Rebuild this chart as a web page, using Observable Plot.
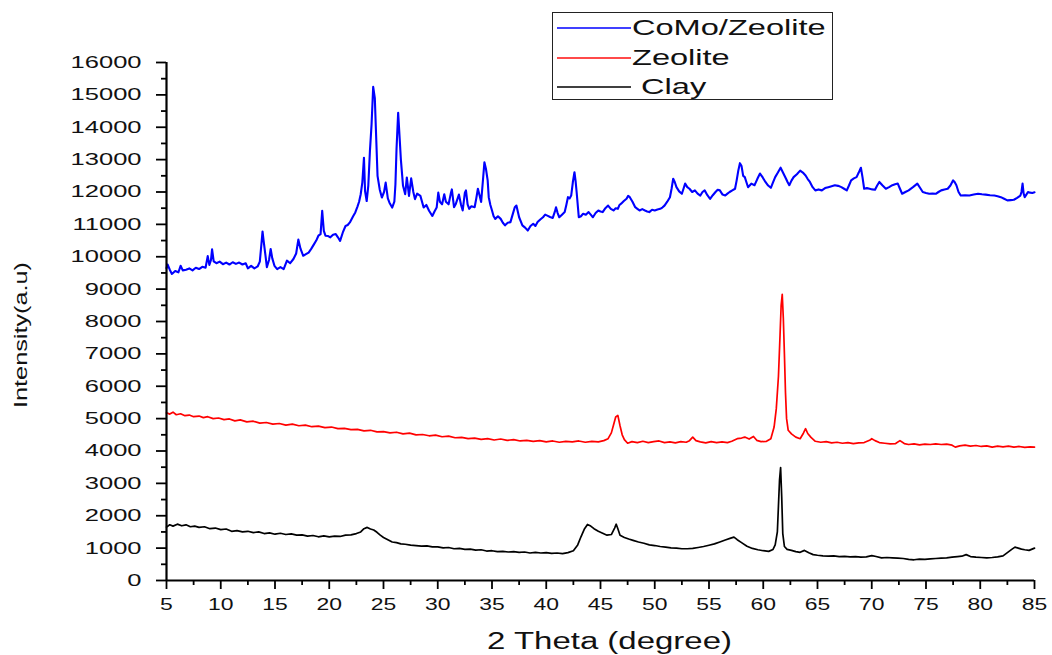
<!DOCTYPE html>
<html>
<head>
<meta charset="utf-8">
<script src="https://cdn.jsdelivr.net/npm/d3@7"></script>
<script src="https://cdn.jsdelivr.net/npm/@observablehq/plot@0.6"></script>
<style>
  body { margin: 0; background: #fff; }
  #chart { position: relative; width: 1052px; height: 655px; }
  .legend {
    position: absolute; left: 552px; top: 12px; width: 281px; height: 88px;
    box-sizing: border-box; border: 1.5px solid #222; background: #fff;
    font-family: "Liberation Sans", Arial, sans-serif; font-size: 22px; color: #111;
  }
  .legend .row { position: absolute; left: 0; height: 28px; display: flex; align-items: center; }
  .legend .key { display: block; margin-left: 4px; }
  .legend .lab { display: inline-block; white-space: pre; transform: scaleX(1.48); transform-origin: left center; margin-left: 1px; }
</style>
</head>
<body>
<div id="chart"></div>
<script>
// XRD patterns: [2θ (degree), intensity (a.u.)]
const comoZeolite = [
  [5.0,9650],[5.1,9760],[5.3,9600],[5.5,9470],[5.8,9560],[6.1,9520],[6.3,9720],[6.5,9580],[6.8,9600],[7.1,9640],
  [7.4,9580],[7.7,9660],[8.0,9620],[8.3,9690],[8.6,9660],[8.8,10020],[8.95,9750],[9.1,9900],[9.2,10230],[9.35,9860],
  [9.6,9800],[9.9,9850],[10.2,9770],[10.5,9820],[10.8,9760],[11.1,9830],[11.4,9780],[11.7,9820],[12.0,9760],[12.3,9800],
  [12.5,9640],[12.8,9720],[13.1,9640],[13.4,9700],[13.6,9850],[13.75,10400],[13.85,10780],[13.95,10500],[14.1,10100],[14.25,9680],
  [14.45,9900],[14.6,10240],[14.75,9950],[14.95,9720],[15.2,9620],[15.5,9680],[15.8,9620],[16.1,9880],[16.4,9800],[16.7,9930],
  [16.95,10100],[17.15,10530],[17.35,10250],[17.6,10030],[17.85,10080],[18.1,10130],[18.35,10250],[18.6,10390],[18.8,10500],[19.0,10650],
  [19.2,10700],[19.35,11420],[19.5,10800],[19.65,10650],[19.9,10640],[20.1,10600],[20.35,10680],[20.6,10700],[20.8,10600],[21.0,10490],
  [21.25,10750],[21.5,10950],[21.7,10980],[21.9,11060],[22.2,11250],[22.4,11370],[22.6,11550],[22.75,11700],[22.9,11930],[23.05,12300],
  [23.2,13060],[23.3,12030],[23.45,11720],[23.6,12200],[23.75,13270],[23.9,14090],[24.05,15250],[24.2,14900],[24.3,13930],[24.45,12500],
  [24.65,12080],[24.85,11830],[25.05,12000],[25.2,12290],[25.4,11800],[25.55,11670],[25.8,11520],[26.0,11700],[26.1,12240],[26.2,13320],
  [26.35,14450],[26.5,13600],[26.6,13010],[26.8,12190],[27.0,11930],[27.15,12450],[27.35,11880],[27.55,12420],[27.75,12000],[27.9,11780],
  [28.1,11950],[28.4,11880],[28.7,11520],[28.95,11600],[29.2,11420],[29.5,11260],[29.7,11400],[29.9,11520],[30.05,11980],[30.2,11700],
  [30.4,11620],[30.6,11930],[30.75,11700],[31.0,11620],[31.2,11950],[31.3,12080],[31.5,11530],[31.65,11620],[31.95,11920],[32.15,11600],
  [32.3,11430],[32.5,11980],[32.6,12050],[32.75,11620],[32.9,11480],[33.1,11560],[33.4,11530],[33.55,11800],[33.7,12100],[33.85,11900],
  [34.0,11690],[34.15,12300],[34.3,12920],[34.45,12700],[34.6,12360],[34.7,11840],[34.85,11600],[35.0,11430],[35.15,11250],[35.3,11170],
  [35.55,11250],[35.8,11170],[36.0,11050],[36.2,10970],[36.45,11050],[36.7,11070],[36.9,11300],[37.1,11530],[37.25,11580],[37.5,11220],
  [37.8,10970],[38.05,10900],[38.3,10810],[38.55,10950],[38.8,11020],[39.0,10950],[39.2,11070],[39.45,11150],[39.7,11220],[39.9,11300],
  [40.1,11270],[40.35,11230],[40.6,11200],[40.8,11400],[40.9,11530],[41.05,11350],[41.2,11220],[41.45,11300],[41.7,11380],[41.85,11600],
  [42.0,11840],[42.15,11800],[42.3,11890],[42.45,12300],[42.6,12610],[42.7,12350],[42.8,12000],[43.0,11220],[43.2,11250],[43.4,11330],
  [43.65,11300],[43.9,11380],[44.1,11300],[44.3,11220],[44.55,11350],[44.8,11430],[45.0,11400],[45.2,11380],[45.45,11500],[45.7,11580],
  [45.95,11480],[46.2,11430],[46.4,11500],[46.6,11480],[46.75,11600],[46.9,11640],[47.15,11720],[47.4,11790],[47.55,11880],[47.7,11840],
  [47.95,11700],[48.2,11530],[48.4,11480],[48.6,11430],[48.85,11470],[49.1,11430],[49.3,11400],[49.5,11380],[49.75,11450],[50.0,11430],
  [50.25,11460],[50.5,11480],[50.7,11520],[50.9,11580],[51.15,11700],[51.4,11840],[51.55,12100],[51.7,12410],[51.85,12300],[52.0,12150],
  [52.25,12020],[52.5,11945],[52.65,12100],[52.8,12260],[53.0,12150],[53.2,12100],[53.45,12000],[53.7,12050],[53.95,11950],[54.2,11890],
  [54.4,12000],[54.6,12050],[54.85,11900],[55.1,11790],[55.35,11900],[55.6,12000],[55.8,12070],[56.0,12050],[56.25,11920],[56.5,11890],
  [56.7,11950],[56.9,12000],[57.15,12050],[57.4,12100],[57.55,12360],[57.7,12660],[57.85,12890],[58.0,12800],[58.15,12500],[58.3,12460],
  [58.45,12300],[58.6,12150],[58.75,12200],[58.9,12260],[59.2,12210],[59.45,12400],[59.7,12570],[59.95,12450],[60.2,12310],[60.45,12200],
  [60.7,12130],[60.9,12300],[61.1,12460],[61.35,12600],[61.6,12750],[61.85,12580],[62.1,12410],[62.25,12300],[62.4,12210],[62.6,12350],
  [62.8,12460],[63.1,12550],[63.4,12660],[63.65,12600],[63.9,12510],[64.1,12400],[64.3,12310],[64.55,12150],[64.8,12050],[65.1,12080],
  [65.4,12050],[65.7,12120],[66.0,12150],[66.3,12180],[66.6,12210],[66.9,12190],[67.2,12150],[67.45,12100],[67.7,12050],[67.9,12200],
  [68.1,12360],[68.35,12420],[68.6,12460],[68.8,12600],[69.0,12750],[69.15,12450],[69.3,12100],[69.55,12120],[69.8,12100],[70.05,12080],
  [70.3,12070],[70.5,12200],[70.7,12310],[71.0,12200],[71.3,12100],[71.6,12150],[71.9,12210],[72.15,12240],[72.4,12260],[72.6,12100],
  [72.8,11945],[73.1,12000],[73.4,12050],[73.8,12150],[74.2,12260],[74.45,12130],[74.7,12000],[75.0,11970],[75.3,11945],[75.6,11950],
  [75.9,11945],[76.15,12000],[76.4,12050],[76.7,12080],[77.0,12100],[77.25,12200],[77.5,12360],[77.65,12300],[77.8,12210],[78.0,12000],
  [78.2,11890],[78.6,11900],[79.0,11890],[79.4,11920],[79.8,11945],[80.15,11930],[80.5,11920],[80.9,11900],[81.3,11890],[81.6,11870],
  [81.9,11840],[82.2,11790],[82.5,11740],[82.8,11750],[83.1,11760],[83.4,11820],[83.7,11890],[83.8,12000],[83.9,12260],[84.0,11950],
  [84.1,11840],[84.25,11920],[84.4,12000],[84.6,11980],[84.8,11970],[85.0,11990]
];

const zeolite = [
  [5.0,5180],[5.3,5140],[5.6,5200],[5.9,5120],[6.3,5150],[6.7,5090],[7.1,5110],[7.5,5060],[8.0,5080],[8.4,5030],
  [8.8,5060],[9.3,5000],[9.8,5020],[10.3,4970],[10.8,4990],[11.3,4930],[11.8,4960],[12.4,4900],[13.0,4920],[13.6,4860],
  [14.2,4880],[14.8,4830],[15.4,4850],[16.0,4800],[16.6,4830],[17.2,4780],[17.8,4800],[18.4,4750],[19.0,4770],[19.6,4720],
  [20.2,4740],[20.8,4690],[21.4,4700],[22.0,4660],[22.6,4670],[23.2,4620],[23.8,4640],[24.4,4590],[25.0,4600],[25.6,4560],
  [26.2,4580],[26.8,4530],[27.4,4550],[28.0,4500],[28.6,4510],[29.2,4470],[29.8,4490],[30.4,4440],[31.0,4460],[31.6,4410],
  [32.2,4420],[32.8,4380],[33.4,4400],[34.0,4360],[34.6,4380],[35.2,4340],[35.8,4370],[36.4,4330],[37.0,4350],[37.6,4310],
  [38.2,4330],[38.8,4300],[39.4,4320],[40.0,4280],[40.6,4310],[41.2,4270],[41.8,4300],[42.4,4280],[43.0,4310],[43.6,4270],
  [44.2,4300],[44.8,4280],[45.3,4320],[45.7,4380],[46.0,4560],[46.2,4800],[46.4,5050],[46.6,5100],[46.8,4780],[47.0,4500],
  [47.2,4350],[47.5,4240],[47.9,4290],[48.4,4260],[48.9,4300],[49.4,4260],[49.9,4290],[50.4,4310],[50.9,4260],[51.4,4280],
  [51.9,4250],[52.4,4290],[52.9,4270],[53.2,4320],[53.5,4430],[53.8,4320],[54.2,4280],[54.7,4250],[55.2,4290],[55.7,4260],
  [56.2,4280],[56.7,4260],[57.1,4300],[57.6,4380],[58.0,4400],[58.3,4430],[58.7,4370],[59.1,4450],[59.4,4330],[59.8,4290],
  [60.3,4300],[60.7,4380],[61.0,4740],[61.2,5300],[61.4,6300],[61.55,7600],[61.65,8500],[61.75,8840],[61.85,8100],[61.95,7000],
  [62.05,5800],[62.15,5000],[62.3,4640],[62.6,4530],[63.0,4430],[63.4,4380],[63.7,4550],[63.9,4690],[64.1,4540],[64.4,4420],
  [64.8,4300],[65.3,4270],[65.8,4290],[66.3,4250],[66.8,4270],[67.3,4240],[67.8,4260],[68.3,4230],[68.8,4250],[69.3,4260],
  [69.8,4330],[70.0,4380],[70.3,4320],[70.7,4260],[71.2,4240],[71.7,4220],[72.2,4230],[72.6,4320],[73.0,4230],[73.4,4200],
  [73.9,4220],[74.4,4190],[74.9,4210],[75.4,4200],[75.9,4220],[76.4,4200],[76.9,4210],[77.4,4180],[77.7,4120],[78.1,4160],
  [78.6,4180],[79.1,4150],[79.6,4170],[80.1,4140],[80.6,4160],[81.1,4120],[81.6,4150],[82.1,4130],[82.6,4150],[83.1,4120],
  [83.6,4140],[84.1,4110],[84.6,4130],[85.0,4120]
];

const clay = [
  [5.0,1650],[5.3,1720],[5.6,1680],[6.0,1740],[6.4,1690],[6.8,1720],[7.2,1660],[7.6,1680],[8.0,1640],[8.5,1660],
  [9.0,1600],[9.5,1620],[10.0,1570],[10.5,1590],[11.0,1520],[11.5,1540],[12.0,1500],[12.5,1520],[13.0,1480],[13.5,1500],
  [14.0,1450],[14.5,1470],[15.0,1430],[15.5,1460],[16.0,1420],[16.5,1440],[17.0,1400],[17.5,1410],[18.0,1370],[18.5,1390],
  [19.0,1350],[19.5,1380],[20.0,1350],[20.5,1370],[21.0,1360],[21.5,1400],[22.0,1410],[22.5,1450],[22.9,1500],[23.2,1600],
  [23.5,1640],[23.8,1590],[24.1,1560],[24.4,1490],[24.7,1400],[25.0,1330],[25.4,1260],[25.8,1190],[26.2,1170],[26.6,1130],
  [27.0,1120],[27.5,1090],[28.0,1080],[28.5,1060],[29.0,1070],[29.5,1040],[30.0,1040],[30.5,1010],[31.0,1020],[31.5,980],
  [32.0,990],[32.5,960],[33.0,970],[33.5,940],[34.0,950],[34.5,910],[35.0,920],[35.5,890],[36.0,900],[36.5,880],
  [37.0,890],[37.5,870],[38.0,880],[38.5,850],[39.0,870],[39.5,850],[40.0,860],[40.5,840],[41.0,850],[41.5,830],
  [42.0,860],[42.5,920],[42.9,1100],[43.2,1350],[43.5,1580],[43.8,1730],[44.1,1680],[44.4,1600],[44.8,1520],[45.2,1460],
  [45.6,1400],[46.0,1420],[46.3,1620],[46.45,1740],[46.6,1600],[46.8,1400],[47.2,1330],[47.6,1280],[48.0,1240],[48.5,1190],
  [49.0,1150],[49.5,1100],[50.0,1080],[50.5,1050],[51.0,1030],[51.5,1010],[52.0,1000],[52.5,980],[53.0,980],[53.5,990],
  [54.0,1020],[54.5,1050],[55.0,1090],[55.5,1130],[56.0,1190],[56.5,1250],[57.0,1310],[57.3,1340],[57.6,1260],[58.0,1170],
  [58.5,1060],[59.0,990],[59.5,950],[60.0,920],[60.5,900],[60.9,960],[61.1,1100],[61.3,1500],[61.4,2300],[61.5,3100],
  [61.6,3490],[61.7,2600],[61.8,1450],[61.95,1050],[62.2,960],[62.6,930],[63.0,890],[63.4,870],[63.8,930],[64.2,860],
  [64.6,800],[65.0,780],[65.5,760],[66.0,750],[66.5,760],[67.0,740],[67.5,745],[68.0,730],[68.5,740],[69.0,720],
  [69.5,730],[70.0,770],[70.4,740],[70.9,700],[71.4,710],[71.9,700],[72.4,690],[72.9,680],[73.4,650],[73.9,640],
  [74.4,660],[74.9,650],[75.4,670],[75.9,680],[76.4,690],[76.9,700],[77.4,720],[77.9,740],[78.3,750],[78.7,800],
  [79.1,740],[79.6,720],[80.1,710],[80.6,700],[81.1,710],[81.6,730],[82.1,760],[82.5,860],[82.9,960],[83.2,1030],
  [83.5,1000],[83.8,970],[84.1,950],[84.5,930],[85.0,1000]
];

const seriesData = [comoZeolite, zeolite, clay];
const legendLabels = ["CoMo/Zeolite", "Zeolite", " Clay"];
const lineColors = ["#0000ff", "#ff0000", "#000000"];
const keyColors = ["#0000ff", "#ff4a4a", "#000000"];

const xTicks = [5, 10, 15, 20, 25, 30, 35, 40, 45, 50, 55, 60, 65, 70, 75, 80, 85];
const xMinorTicks = [7.5, 12.5, 17.5, 22.5, 27.5, 32.5, 37.5, 42.5, 47.5, 52.5, 57.5, 62.5, 67.5, 72.5, 77.5, 82.5];
const yTicks = [0, 1000, 2000, 3000, 4000, 5000, 6000, 7000, 8000, 9000, 10000, 11000, 12000, 13000, 14000, 15000, 16000];
const yMinorTicks = [500, 1500, 2500, 3500, 4500, 5500, 6500, 7500, 8500, 9500, 10500, 11500, 12500, 13500, 14500, 15500];

const xTitle = "2 Theta (degree)";
const yTitle = "Intensity(a.u)";

const svg = Plot.plot({
  width: 1052,
  height: 655,
  marginLeft: 166,
  marginRight: 18,
  marginTop: 62,
  marginBottom: 75,
  style: {fontFamily: "'Liberation Sans', Arial, sans-serif", fontSize: "17px", color: "#111", background: "#fff"},
  x: {domain: [5, 85]},
  y: {domain: [0, 16000]},
  marks: [
    ...seriesData.map((s, i) => Plot.line(s, {x: d => d[0], y: d => d[1], stroke: lineColors[i], strokeWidth: i === 0 ? 2.1 : 1.7})),
    Plot.axisX(xTicks, {tickSize: 9, tickPadding: 8, tickFormat: d => String(d), label: null, strokeWidth: 1.8, stroke: "#000"}),
    Plot.axisX(xMinorTicks, {tickSize: 5, tickFormat: () => "", label: null, strokeWidth: 1.8, stroke: "#000"}),
    Plot.axisY(yTicks, {tickSize: 10, tickPadding: 15, tickFormat: d => String(d), label: null, strokeWidth: 1.8, stroke: "#000"}),
    Plot.axisY(yMinorTicks, {tickSize: 5, tickFormat: () => "", label: null, strokeWidth: 1.8, stroke: "#000"}),
    Plot.ruleX([5], {strokeWidth: 2.2, stroke: "#000"}),
    Plot.ruleY([0], {strokeWidth: 2.2, stroke: "#000"}),
    Plot.text([xTitle], {frameAnchor: "bottom", dy: 61, lineAnchor: "middle", fontSize: 23, fill: "#111"}),
    Plot.text([yTitle], {frameAnchor: "left", rotate: -90, dx: -145, lineAnchor: "middle", fontSize: 19, fill: "#111"})
  ]
});

const chart = document.getElementById("chart");
chart.appendChild(svg);

// Wide, horizontally stretched lettering for axis labels and titles
const titleBoxes = new Map([[xTitle, {len: 245, cx: 609.5, cy: 641}], [yTitle, {len: 146, cx: 20.5, cy: 335}]]);
d3.select(svg).selectAll("text").each(function() {
  const t = this.textContent;
  const w = this.getComputedTextLength();
  if (!w) return;
  const title = titleBoxes.get(t);
  let target;
  if (title) target = title.len;
  else {
    const g = this.closest("g[aria-label]");
    const lab = g ? g.getAttribute("aria-label") : "";
    target = w * (lab.startsWith("y-axis") ? 1.5 : 1.35);
  }
  this.setAttribute("textLength", target.toFixed(1));
  this.setAttribute("lengthAdjust", "spacingAndGlyphs");
  if (title) {
    // re-centre the stretched title on its slot
    const s = svg.getBoundingClientRect();
    const r = this.getBoundingClientRect();
    const ox = title.cx - (r.left - s.left + r.width / 2);
    const oy = title.cy - (r.top - s.top + r.height / 2);
    const tr = this.getAttribute("transform") || "";
    this.setAttribute("transform", `translate(${ox.toFixed(1)},${oy.toFixed(1)}) ${tr}`);
  }
});

// Boxed legend over the top of the plot
const legend = d3.select(chart).append("div").attr("class", "legend");
const rowTops = [1, 31, 60];
legendLabels.forEach((label, i) => {
  const row = legend.append("div").attr("class", "row").style("top", rowTops[i] + "px");
  row.append("svg").attr("class", "key").attr("width", 74).attr("height", 4)
    .append("line").attr("x1", 0).attr("x2", 74).attr("y1", 2).attr("y2", 2)
    .attr("stroke", keyColors[i]).attr("stroke-width", i === 1 ? 2 : 1.5);
  row.append("span").attr("class", "lab").text(label);
});
</script>
</body>
</html>
